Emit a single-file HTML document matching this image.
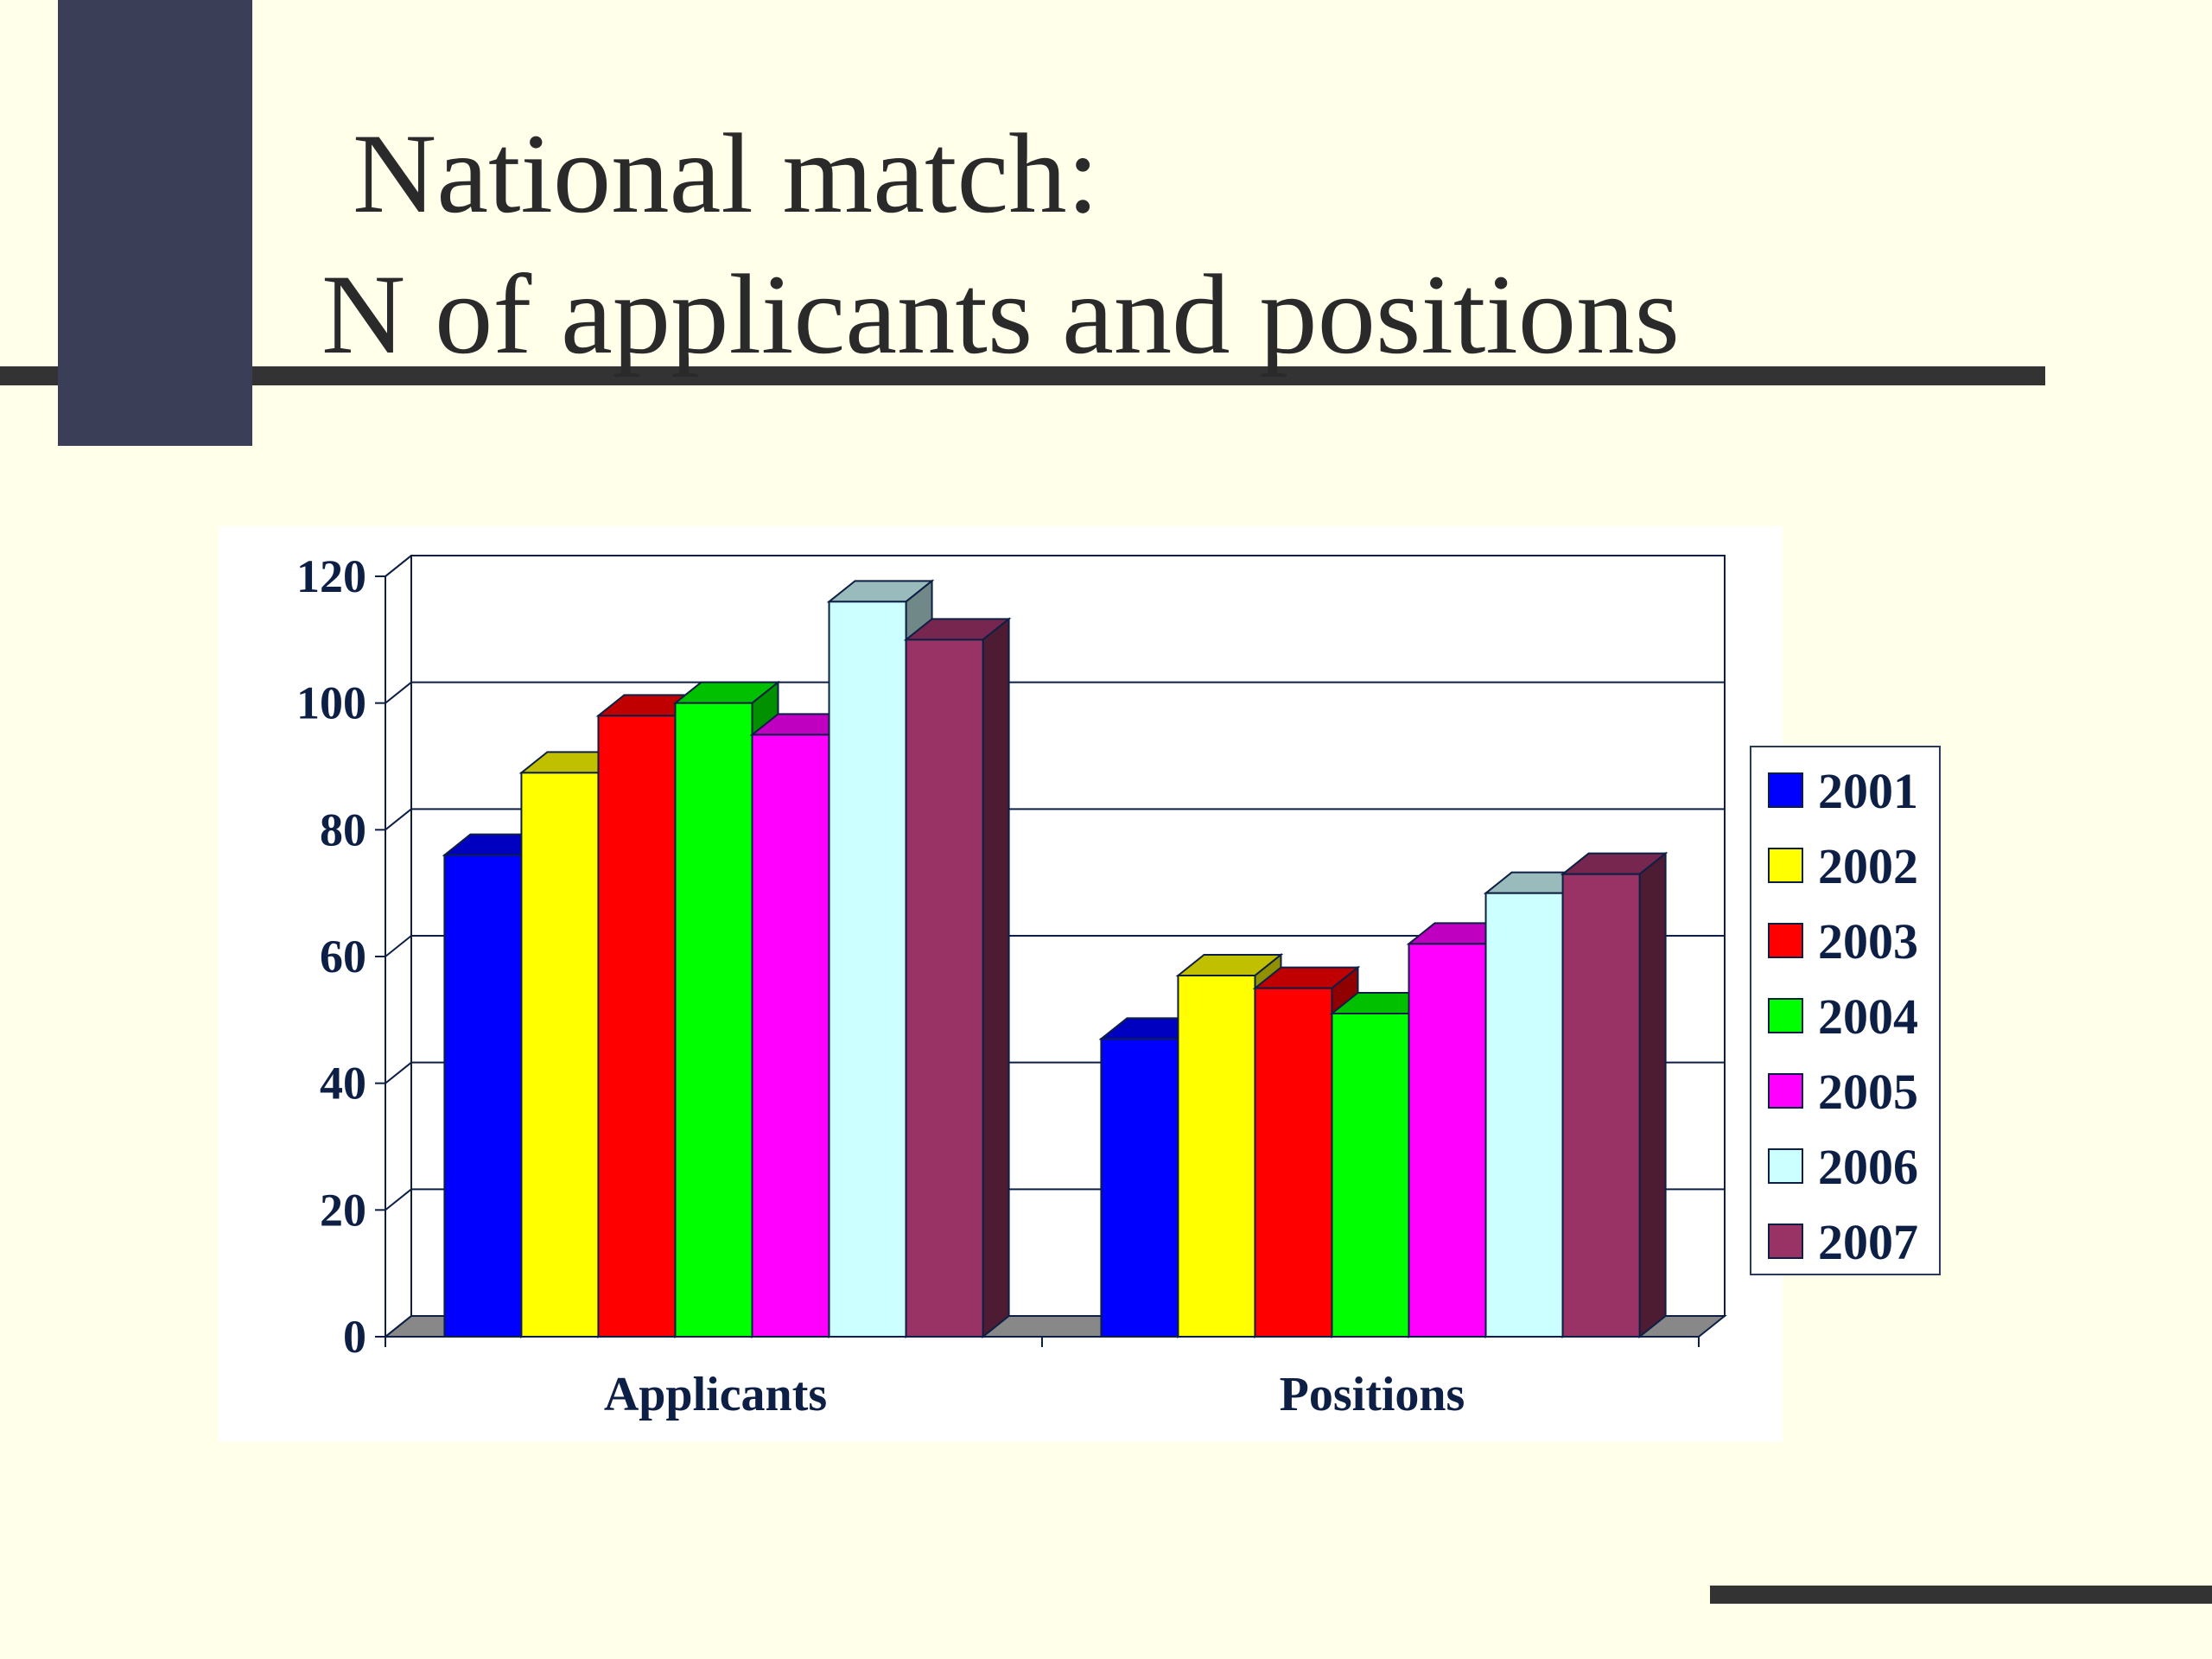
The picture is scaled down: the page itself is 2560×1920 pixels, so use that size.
<!DOCTYPE html>
<html><head><meta charset="utf-8"><style>
html,body{margin:0;padding:0;background:#FFFFEA;}
svg{display:block}
</style></head><body>
<svg id="slide" width="2560" height="1920" viewBox="0 0 2560 1920" xmlns="http://www.w3.org/2000/svg">
<rect x="0" y="0" width="2560" height="1920" fill="#FFFFEA"/>
<rect x="0" y="424" width="2367" height="22" fill="#333333"/>
<rect x="67" y="0" width="225" height="516" fill="#3b3e57"/>
<rect x="1979" y="1835" width="581" height="21" fill="#333333"/>
<text x="408" y="245" font-family="Liberation Serif, serif" font-size="132" fill="#2a2a2a" textLength="864" lengthAdjust="spacingAndGlyphs">National match:</text>
<text x="372" y="408" font-family="Liberation Serif, serif" font-size="132" fill="#2a2a2a" textLength="1572" lengthAdjust="spacingAndGlyphs">N of applicants and positions</text>
<rect x="253" y="609" width="1810" height="1060" fill="#FFFFFF"/>
<g id="chart"></g>
</svg>
<script>
const categories = ["Applicants", "Positions"];
const seriesNames = ["2001","2002","2003","2004","2005","2006","2007"];
const applicants = [76, 89, 98, 100, 95, 116, 110];
const positions = [47, 57, 55, 51, 62, 70, 73];
const yTicks = [0, 20, 40, 60, 80, 100, 120];
const frontCol = ["#0000FF","#FFFF00","#FF0000","#00FF00","#FF00FF","#CCFFFF","#993366"];
const topCol = ["#0000C0","#C0C000","#C00000","#00C000","#C000C0","#99BBBB","#772650"];
const sideCol = ["#000090","#909000","#900000","#009000","#900090","#708888","#4d1c33"];

const NS = "http://www.w3.org/2000/svg";
const g = document.getElementById("chart");
const X0 = 446, X1 = 1966, Y0 = 1547, YMAX = 120, PXU = 880/120;
const DX = 30, DY = -24;
const ink = "#0d1f45";
function y(v){ return Y0 - v*PXU; }
const catW = (X1 - X0)/categories.length;
function mk(tag, attrs){ const e = document.createElementNS(NS, tag); for (const k in attrs) e.setAttribute(k, attrs[k]); g.appendChild(e); return e; }

// back wall + gridlines
let e = mk("rect",{x:X0+DX,y:y(YMAX)+DY,width:X1-X0,height:YMAX*PXU,fill:"#fff",stroke:ink,"stroke-width":2});


// floor
e = mk("polygon",{points:`${X0},${Y0} ${X0+DX},${Y0+DY} ${X1+DX},${Y0+DY} ${X1},${Y0}`,fill:"#888",stroke:ink,"stroke-width":2});


yTicks.forEach(v=>{
  if (v>0) {
    const l = mk("line",{x1:X0+DX,x2:X1+DX,y1:y(v)+DY,y2:y(v)+DY,stroke:ink,"stroke-width":2});
    
    
  }
  const d = mk("line",{x1:X0,y1:y(v),x2:X0+DX,y2:y(v)+DY,stroke:ink,"stroke-width":2});
  
  
  const t = mk("line",{x1:X0-12,y1:y(v),x2:X0,y2:y(v),stroke:ink,"stroke-width":2});
  
  
  const tx = mk("text",{x:X0-22,y:y(v)+18,"text-anchor":"end","font-family":"Liberation Serif, serif","font-weight":"bold","font-size":54,fill:ink});
  tx.textContent = v;
  
  
});
// side wall line
e = mk("line",{x1:X0,y1:Y0,x2:X0,y2:y(YMAX),stroke:ink,"stroke-width":2});


e = mk("line",{x1:X0,y1:y(YMAX),x2:X0+DX,y2:y(YMAX)+DY,stroke:ink,"stroke-width":2});


e = mk("line",{x1:X0,y1:Y0,x2:X1,y2:Y0,stroke:ink,"stroke-width":2});


for (let i=0;i<=categories.length;i++){
  const t = mk("line",{x1:X0+i*catW,x2:X0+i*catW,y1:Y0,y2:Y0+12,stroke:ink,"stroke-width":2});
  
  
}
// bars
const data = [applicants, positions];
const barW = catW*0.82/seriesNames.length;
data.forEach((vals, ci)=>{
  const start = X0 + ci*catW + (catW - barW*seriesNames.length)/2;
  vals.forEach((v, si)=>{
    const bx = start + si*barW, by = y(v);
    const top = mk("polygon",{points:`${bx},${by} ${bx+DX},${by+DY} ${bx+barW+DX},${by+DY} ${bx+barW},${by}`,fill:topCol[si],stroke:ink,"stroke-width":2});
    
    
    const side = mk("polygon",{points:`${bx+barW},${by} ${bx+barW+DX},${by+DY} ${bx+barW+DX},${Y0+DY} ${bx+barW},${Y0}`,fill:sideCol[si],stroke:ink,"stroke-width":2});
    
    
    const f = mk("rect",{x:bx,y:by,width:barW,height:Y0-by,fill:frontCol[si],stroke:ink,"stroke-width":2});
    
    
  });
  const lbl = mk("text",{x:X0+ci*catW+catW/2+2,y:1632,"text-anchor":"middle","font-family":"Liberation Serif, serif","font-weight":"bold","font-size":56,fill:ink});
  lbl.textContent = categories[ci];
  
  
});
// legend
e = mk("rect",{x:2026,y:864,width:219,height:611,fill:"#fff",stroke:"#2a3a5a","stroke-width":2});


seriesNames.forEach((n,i)=>{
  const cy = 914 + i*87;
  const sw = mk("rect",{x:2047,y:cy-19,width:39,height:39,fill:frontCol[i],stroke:ink,"stroke-width":2});
  
  
  const t = mk("text",{x:2104,y:cy+21,"font-family":"Liberation Serif, serif","font-weight":"bold","font-size":58,fill:ink});
  t.textContent = n;
  
  
});
</script>
</body></html>
